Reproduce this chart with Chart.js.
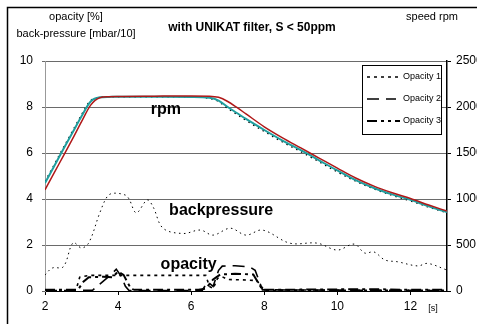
<!DOCTYPE html>
<html>
<head>
<meta charset="utf-8">
<script src="https://cdn.jsdelivr.net/npm/chart.js@4.4.1/dist/chart.umd.min.js"></script>
<style>
  html, body { margin: 0; padding: 0; background: #fff; }
  canvas { display: block; }
</style>
</head>
<body>
<canvas id="chart" width="477" height="324"></canvas>
<script>
// speed curves (rpm, right axis)
const rpmTime = [2, 2.25, 2.5, 2.75, 3, 3.25, 3.5, 3.75, 4, 5, 6, 6.5, 6.75, 7, 7.25, 7.5, 8, 8.5, 9, 9.5, 10, 10.5, 11, 11.5, 12, 12.5, 13];
const rpmTeal = [1175, 1355, 1540, 1720, 1900, 2060, 2105, 2110, 2112, 2112, 2110, 2100, 2070, 2000, 1935, 1870, 1750, 1635, 1530, 1420, 1310, 1205, 1120, 1050, 990, 920, 858];
const rpmRed = [1100, 1285, 1465, 1650, 1840, 2020, 2100, 2112, 2115, 2118, 2120, 2118, 2105, 2060, 1995, 1925, 1785, 1665, 1555, 1445, 1335, 1228, 1140, 1068, 1005, 935, 868];
const rpmDots = [1190, 1370, 1555, 1735, 1915, 2070, 2105, 2110, 2112, 2112, 2108, 2095, 2060, 1985, 1920, 1855, 1735, 1620, 1515, 1405, 1295, 1195, 1110, 1040, 980, 912, 852];

// back-pressure [mbar/10], left axis
const bpTime = [2, 2.2, 2.5, 2.77, 3.0, 3.2, 3.5, 3.7, 3.86, 4.2, 4.3, 4.5, 4.8, 4.96, 5.23, 5.78, 6.25, 6.6, 7.07, 7.5, 7.95, 8.7, 9.45, 10, 10.46, 10.75, 11, 11.3, 11.65, 12.2, 12.47, 13];
const backPressure = [0.7, 1.0, 1.05, 2.1, 1.87, 2.1, 3.4, 4.1, 4.25, 4.17, 4.0, 3.4, 3.96, 3.65, 2.73, 2.5, 2.65, 2.43, 2.73, 2.43, 2.65, 2.08, 2.08, 1.78, 2.04, 1.65, 1.7, 1.35, 1.27, 1.09, 1.2, 0.91];

// opacity [%], left axis
const op1Time = [2, 2.85, 2.95, 3.2, 6.4, 6.5, 6.6, 6.72, 6.85, 7.0, 7.5, 7.8, 8.0, 13];
const opacity1 = [0.03, 0.05, 0.6, 0.68, 0.68, 0.2, 0.1, 0.55, 0.62, 0.5, 0.48, 0.45, 0.03, 0.03];
const op2Time = [2, 3.3, 3.5, 3.8, 3.95, 4.1, 4.2, 4.3, 6.3, 6.45, 6.6, 6.75, 6.85, 7.2, 7.6, 7.75, 7.95, 13];
const opacity2 = [0.02, 0.03, 0.3, 0.7, 0.95, 0.6, 0.2, 0.02, 0.02, 0.4, 0.2, 0.9, 1.08, 1.1, 1.05, 0.9, 0.05, 0.02];
const op3Time = [2, 2.9, 3.05, 3.2, 3.6, 3.85, 4.0, 4.15, 4.35, 4.45, 6.2, 6.4, 6.6, 6.8, 7.2, 7.7, 7.95, 9, 11, 12, 13];
const opacity3 = [0.05, 0.05, 0.4, 0.6, 0.62, 0.6, 0.85, 0.7, 0.1, 0.05, 0.05, 0.1, 0.5, 0.72, 0.75, 0.72, 0.05, 0.06, 0.08, 0.05, 0.05];

const xTicks = [2, 4, 6, 8, 10, 12];
const leftTicks = [0, 2, 4, 6, 8, 10];
const rightTicks = [0, 500, 1000, 1500, 2000, 2500];

function pts(xs, ys) {
  return xs.map((x, i) => ({ x: x, y: ys[i] }));
}

const FONT = "'Liberation Sans', Arial, sans-serif";

const decorPlugin = {
  id: "decor",
  beforeDraw(chart) {
    const c = chart.ctx;
    c.save();
    c.fillStyle = "#fff";
    c.fillRect(0, 0, chart.width, chart.height);
    c.strokeStyle = "#000";
    c.lineWidth = 1.5;
    c.beginPath();
    c.moveTo(7.5, 324);
    c.lineTo(7.5, 7.5);
    c.lineTo(477, 7.5);
    c.stroke();
    c.restore();
  },
  afterDraw(chart) {
    const c = chart.ctx;
    const x = chart.scales.x;
    const y = chart.scales.y;
    c.save();
    c.fillStyle = "#000";
    c.textAlign = "center";
    c.textBaseline = "middle";
    c.font = "bold 12px " + FONT;
    c.fillText("with UNIKAT filter, S < 50ppm", 252, 28);
    c.font = "11px " + FONT;
    c.fillText("opacity [%]", 76, 17);
    c.fillText("back-pressure [mbar/10]", 76, 34);
    c.fillText("speed rpm", 432, 17);
    c.font = "9px " + FONT;
    c.fillText("[s]", 433, 309);

    c.font = "bold 16px " + FONT;
    c.fillText("rpm", x.getPixelForValue(5.31), y.getPixelForValue(7.9));
    c.fillText("backpressure", x.getPixelForValue(6.82), y.getPixelForValue(3.48));
    c.fillText("opacity", x.getPixelForValue(5.93), y.getPixelForValue(1.13));

    // legend box
    c.fillStyle = "#fff";
    c.fillRect(362.5, 65.5, 79, 69);
    c.strokeStyle = "#000";
    c.lineWidth = 1;
    c.strokeRect(362.5, 65.5, 79, 69);
    const rows = [
      { label: "Opacity 1", y: 77, dash: [3, 4], w: 1.5, x2: 402 },
      { label: "Opacity 2", y: 99, dash: [12, 7], w: 1.5, x2: 396 },
      { label: "Opacity 3", y: 121, dash: [10, 4, 3, 4, 3, 4], w: 2, x2: 400 }
    ];
    rows.forEach((r) => {
      c.beginPath();
      c.setLineDash(r.dash);
      c.lineWidth = r.w;
      c.moveTo(367, r.y);
      c.lineTo(r.x2, r.y);
      c.stroke();
      c.setLineDash([]);
      c.fillStyle = "#000";
      c.font = "9px " + FONT;
      c.textAlign = "right";
      c.fillText(r.label, 441, r.y);
    });
    c.restore();
  }
};

const ctx = document.getElementById("chart").getContext("2d");
new Chart(ctx, {
  type: "line",
  data: {
    datasets: [
      { label: "Opacity 1", data: pts(op1Time, opacity1), yAxisID: "y", borderColor: "#000", borderWidth: 1.6, borderDash: [3, 4], pointRadius: 0, tension: 0 },
      { label: "Opacity 2", data: pts(op2Time, opacity2), yAxisID: "y", borderColor: "#000", borderWidth: 1.6, borderDash: [12, 7], pointRadius: 0, tension: 0 },
      { label: "Opacity 3", data: pts(op3Time, opacity3), yAxisID: "y", borderColor: "#000", borderWidth: 2, borderDash: [10, 4, 3, 4], pointRadius: 0, tension: 0 },
      { label: "backpressure", data: pts(bpTime, backPressure), yAxisID: "y", borderColor: "#000", borderWidth: 1, borderDash: [1.5, 3.5], pointRadius: 0, tension: 0.35 },
      { label: "rpm red", data: pts(rpmTime, rpmRed), yAxisID: "y2", borderColor: "#b01818", borderWidth: 1.5, pointRadius: 0, cubicInterpolationMode: "monotone" },
      { label: "rpm teal", data: pts(rpmTime, rpmTeal), yAxisID: "y2", borderColor: "#1f9f9f", borderWidth: 2, pointRadius: 0, cubicInterpolationMode: "monotone" },
      { label: "rpm dots", data: pts(rpmTime, rpmDots), yAxisID: "y2", borderColor: "#000", borderWidth: 1.5, borderDash: [1.5, 4], pointRadius: 0, cubicInterpolationMode: "monotone" }
    ]
  },
  options: {
    responsive: false,
    animation: false,
    layout: { padding: { left: 0, right: 0, top: 61, bottom: 0 } },
    plugins: {
      legend: { display: false },
      tooltip: { enabled: false }
    },
    scales: {
      x: {
        type: "linear",
        min: 2,
        max: 13,
        afterBuildTicks: (s) => { s.ticks = xTicks.map((v) => ({ value: v })); },
        afterFit: (s) => { s.height = 33; },
        grid: { drawOnChartArea: false, drawTicks: true, tickLength: 4, color: "#000" },
        border: { color: "#000", width: 1 },
        ticks: { color: "#000", font: { family: FONT, size: 12 }, padding: 4, maxRotation: 0, callback: (v) => String(v) }
      },
      y: {
        position: "left",
        min: 0,
        max: 10,
        afterBuildTicks: (s) => { s.ticks = leftTicks.map((v) => ({ value: v })); },
        afterFit: (s) => { s.width = 45; },
        grid: { color: "#6a6a6a", lineWidth: 1, tickLength: 3 },
        border: { color: "#999", width: 1 },
        ticks: { color: "#000", font: { family: FONT, size: 12 }, padding: 9, callback: (v) => String(v) }
      },
      y2: {
        position: "right",
        min: 0,
        max: 2500,
        afterBuildTicks: (s) => { s.ticks = rightTicks.map((v) => ({ value: v })); },
        afterFit: (s) => { s.width = 30; },
        grid: { drawOnChartArea: false, tickLength: 4, color: "#000" },
        border: { color: "#000", width: 1.5 },
        ticks: { color: "#000", font: { family: FONT, size: 12 }, padding: 5, callback: (v) => String(v) }
      }
    }
  },
  plugins: [decorPlugin]
});
</script>
</body>
</html>
